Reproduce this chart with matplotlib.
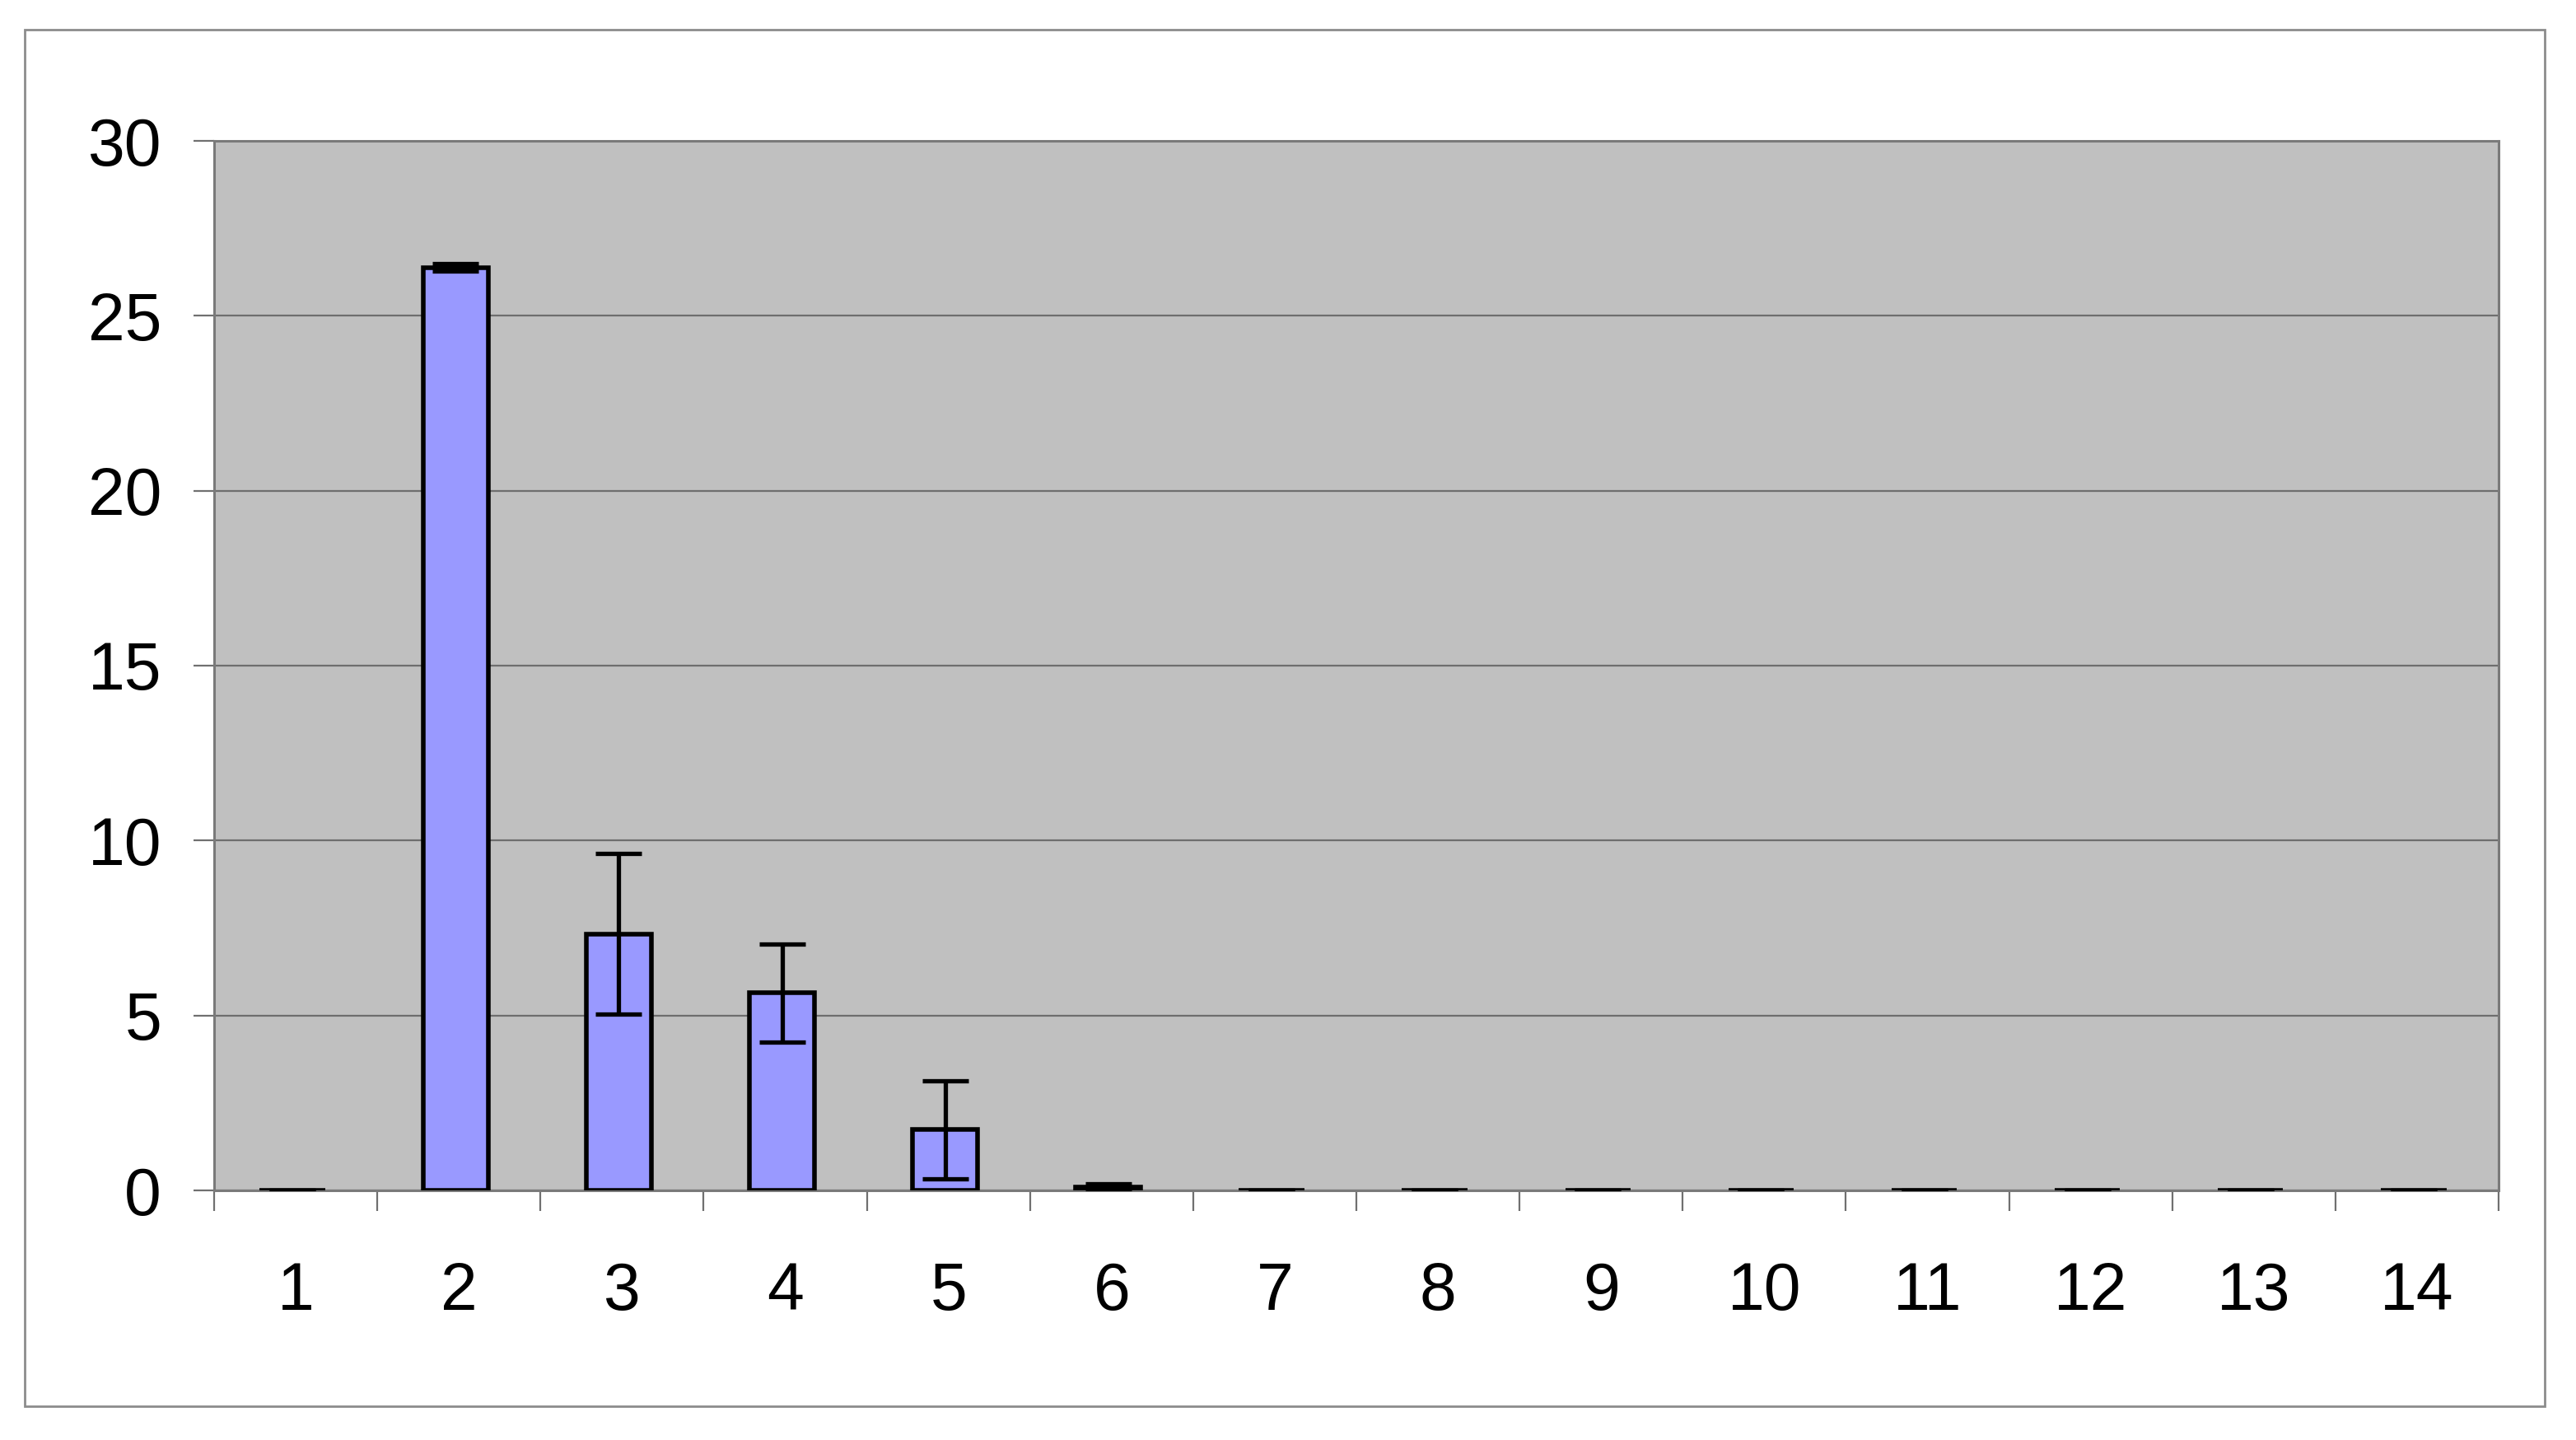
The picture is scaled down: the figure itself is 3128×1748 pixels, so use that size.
import matplotlib
matplotlib.use("Agg")
import matplotlib.pyplot as plt
from matplotlib.patches import Rectangle
import numpy as np

plt.rcParams["font.family"] = ["Liberation Sans", "DejaVu Sans"]

categories = ["1", "2", "3", "4", "5", "6", "7", "8", "9", "10", "11", "12", "13", "14"]
values = [0, 26.38, 7.33, 5.64, 1.74, 0.1, 0, 0, 0, 0, 0, 0, 0, 0]
errors = [0, 0.1, 2.3, 1.4, 1.4, 0.1, 0, 0, 0, 0, 0, 0, 0, 0]
y_ticks = [0, 5, 10, 15, 20, 25, 30]

W, H = 3128, 1748
DPI = 200
fig = plt.figure(figsize=(W / DPI, H / DPI), dpi=DPI)
fig.patch.set_facecolor("white")

# outer chart frame
fig.patches.append(Rectangle((30 / W, 1 - 1707 / H), (3090 - 30) / W, (1707 - 36) / H,
                             transform=fig.transFigure, fill=False,
                             edgecolor="#8c8c8c", linewidth=1.0))

left, right, top, bottom = 260, 3034, 171, 1445
ax = fig.add_axes([left / W, 1 - bottom / H, (right - left) / W, (bottom - top) / H])
ax.set_facecolor("#c0c0c0")

x = np.arange(1, len(categories) + 1)
ax.bar(x - 0.02, values, width=0.4, color="#9999ff", edgecolor="black", linewidth=2.0, zorder=3)
ax.errorbar(x - 0.02, values, yerr=errors, fmt="none", ecolor="black", elinewidth=1.9,
            capsize=10, capthick=1.9, zorder=4)

ax.set_xlim(0.5, len(categories) + 0.5)
ax.set_ylim(0, 30)
ax.set_yticks(y_ticks)
ax.yaxis.grid(True, color="#6e6e6e", linewidth=0.8, zorder=1)
ax.set_axisbelow(True)

# ticks at category boundaries, labels at centres
ax.set_xticks(np.arange(0.5, len(categories) + 1, 1))
ax.set_xticklabels([])
ax.set_xticks(x, minor=True)
ax.set_xticklabels(categories, minor=True)
ax.tick_params(axis="x", which="major", direction="out", length=9, width=0.8, color="#707070")
ax.tick_params(axis="x", which="minor", length=0, pad=31, labelsize=29)
ax.tick_params(axis="y", direction="out", length=9, width=0.8, color="#707070", pad=14, labelsize=29)

for s in ax.spines.values():
    s.set_color("#7a7a7a")
    s.set_linewidth(1.1)

fig.savefig("out.png", dpi=DPI)
plt.close(fig)
